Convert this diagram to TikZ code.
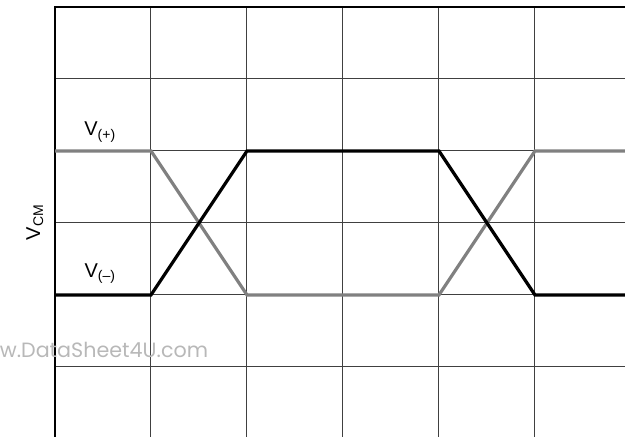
\documentclass[tikz,border=0pt]{standalone}
\usepackage{fontspec}
\setmainfont{Liberation Sans}
\newfontfamily\markfont{Poppins}
\usetikzlibrary{positioning}

\begin{document}
\begin{tikzpicture}[
    x=72pt, y=-54pt,
    every node/.style={font=\fontsize{15}{17}\selectfont, inner sep=0pt},
    gridline/.style={draw=black!75, line width=0.75pt},
    frame/.style={draw=black, line width=2pt},
    trace/.style={line width=2.4pt, line join=miter},
    hightrace/.style={trace, draw=black},
    lowtrace/.style={trace, draw=black!50}
]
\useasboundingbox (-0.573,-0.097) rectangle (5.938,5.972);
% grid
\foreach \i in {1,...,5}
    \draw[gridline] (\i,0) -- (\i,5.972);
\foreach \j in {1,...,5}
    \draw[gridline] (0,\j) -- (5.938,\j);
\draw[frame] (0,5.972) -- (0,0) -- (5.938,0);
% corner points of the traces
\coordinate (hA) at (0,2);   \coordinate (lA) at (0,4);
\coordinate (hB) at (1,2);   \coordinate (lB) at (1,4);
\coordinate (hC) at (2,2);   \coordinate (lC) at (2,4);
\coordinate (hD) at (4,2);   \coordinate (lD) at (4,4);
\coordinate (hE) at (5,2);   \coordinate (lE) at (5,4);
\coordinate (hF) at (5.938,2); \coordinate (lF) at (5.938,4);
% V(+) and V(-)
\draw[lowtrace] (hA) -- (hB) -- (lC) -- (lD) -- (hE) -- (hF);
\draw[hightrace] (lA) -- (lB) -- (hC) -- (hD) -- (lE) -- (lF);
% labels
\node (vplus) at (0.47,1.74) {V\textsubscript{(+)}};
\node (vminus) at (0.47,3.70) {V\textsubscript{(–)}};
\node[rotate=90] (vcm) at (-0.21,2.99) {V\textsubscript{CM}};
\node[text=black!28, font=\markfont\fontsize{15.5}{17}\selectfont] (mark) at (0.51,4.76) {w.DataSheet4U.com};
\end{tikzpicture}
\end{document}
